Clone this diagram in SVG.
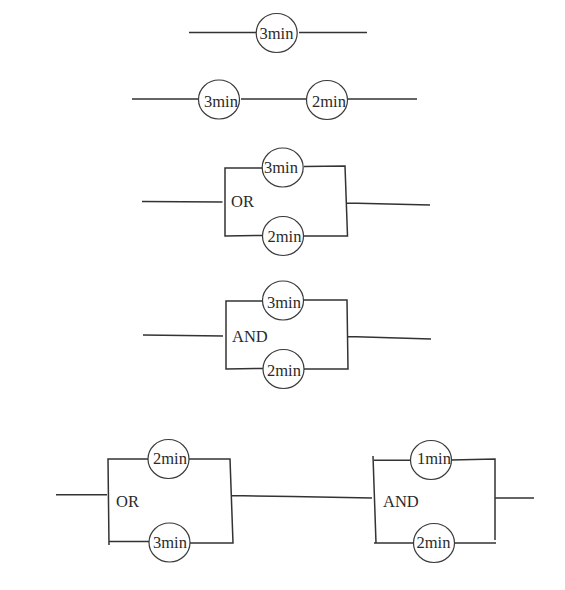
<svg xmlns="http://www.w3.org/2000/svg" width="565" height="590" viewBox="0 0 565 590">
<style>
.c{fill:none;stroke:#333;stroke-width:1.5;stroke-linejoin:miter}
.n{fill:#fff;stroke:#3a3a3a;stroke-width:1.2}
text{font-family:"Liberation Serif","Times New Roman",serif;font-size:16.500px;fill:#2a2a2a}
</style>
<rect width="565" height="590" fill="#fff"/>
<g id="connectors">
<path class="c" d="M189 32.500H256M299 32.500H367"/>
<path class="c" d="M132 99H198M241 99H307M348 99H417"/>
<path class="c" d="M142 201.500L222.500 202M262 168H225V236L263 235.500M304 166.500L345 166L347.500 236H304M347 203L430 205"/>
<path class="c" d="M143 335L223 336M263 301H226V369L263 368.500M303 300H347L348 369H303M348 336.500L431 339"/>
<path class="c" d="M56 494.700H107M149 459H108L109 545M109 541.500H150M189 459H230L233 543H190M231 495.500L292 496.500L372 498"/>
<path class="c" d="M373 456L376 543M374 460.300H411M451 460L495 459V540M374 543H414M455 543H496M495 498H534"/>
</g>
<g id="n1"><ellipse class="n" cx="276.700" cy="33" rx="20.500" ry="19.500"/><text x="259.500" y="39">3min</text></g>
<g id="n2"><ellipse class="n" cx="219" cy="99.500" rx="20.500" ry="19.500"/><text x="204" y="106.500">3min</text></g>
<g id="n3"><ellipse class="n" cx="327" cy="100" rx="20.500" ry="19.500"/><text x="312" y="106.500">2min</text></g>
<g id="n4"><ellipse class="n" cx="282.700" cy="167.500" rx="20.500" ry="19.500"/><text x="264" y="173">3min</text></g>
<g id="n5"><ellipse class="n" cx="283" cy="236" rx="20.500" ry="19.500"/><text x="267.500" y="241.500">2min</text></g>
<g id="n6"><ellipse class="n" cx="283" cy="300.500" rx="20.500" ry="19.500"/><text x="267" y="307.500">3min</text></g>
<g id="n7"><ellipse class="n" cx="283.500" cy="369" rx="20.500" ry="19.500"/><text x="267" y="375.500">2min</text></g>
<g id="n8"><ellipse class="n" cx="168.500" cy="459" rx="20.500" ry="19.500"/><text x="153" y="464">2min</text></g>
<g id="n9"><ellipse class="n" cx="169.500" cy="542.500" rx="20.500" ry="19.500"/><text x="153" y="548">3min</text></g>
<g id="n10"><ellipse class="n" cx="431" cy="460" rx="20.500" ry="19.500"/><text x="417" y="464">1min</text></g>
<g id="n11"><ellipse class="n" cx="434" cy="543" rx="20.500" ry="19.500"/><text x="416.500" y="548">2min</text></g>
<text x="231" y="207">OR</text>
<text x="232" y="341.500">AND</text>
<text x="116" y="507">OR</text>
<text x="383" y="507">AND</text>
</svg>
